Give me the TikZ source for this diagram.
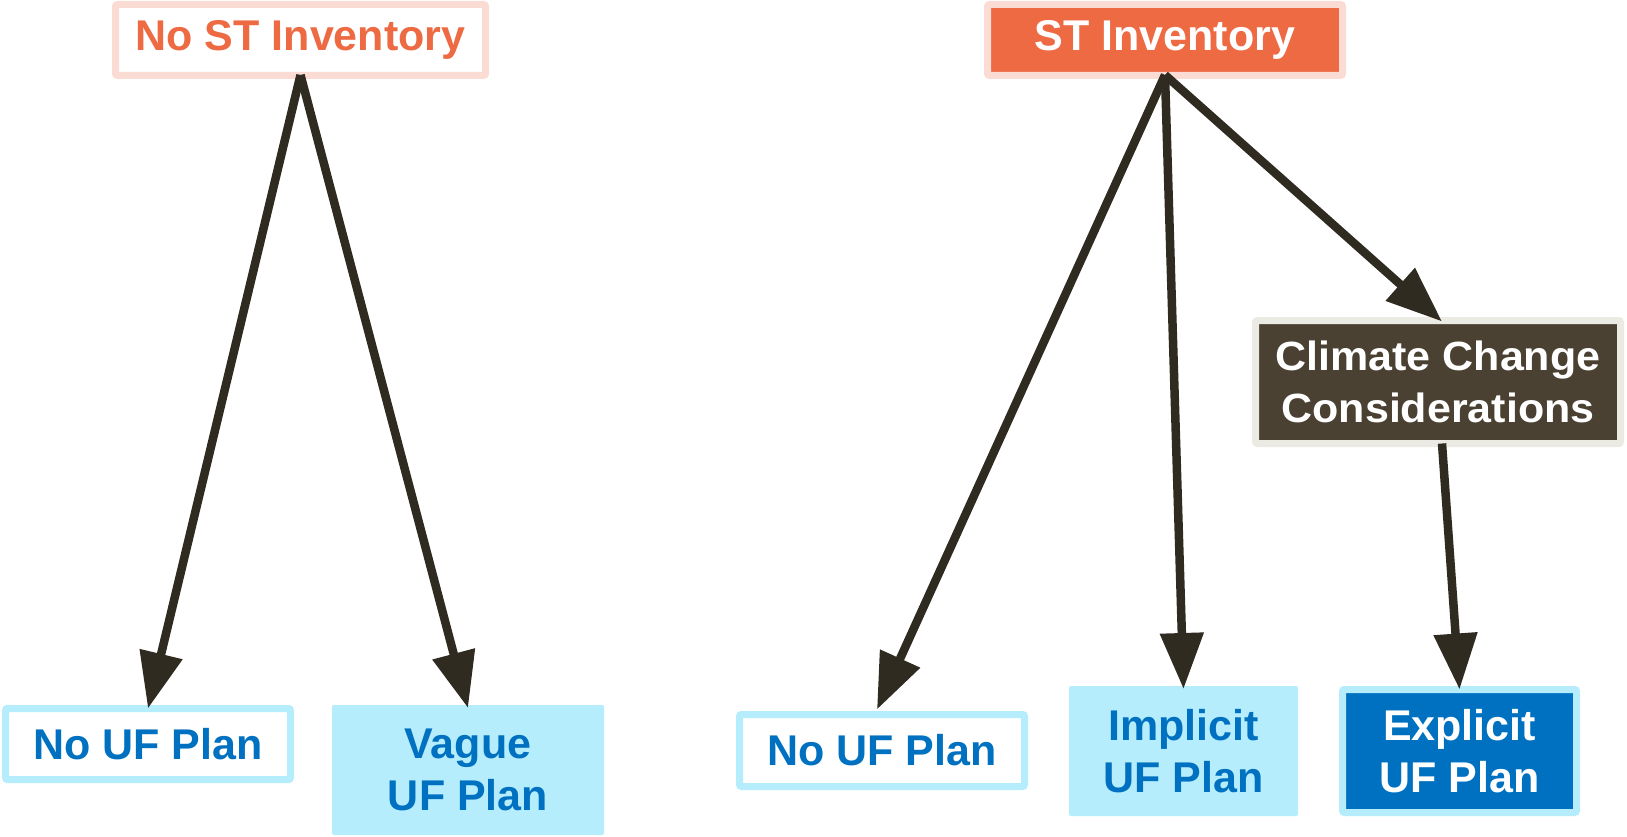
\documentclass[tikz,border=0pt]{standalone}
\usepackage{fontspec}
\setmainfont{Liberation Sans}
\usetikzlibrary{arrows.meta}
\definecolor{orangeST}{RGB}{237,106,67}
\definecolor{pinkBorder}{RGB}{250,220,212}
\definecolor{cyanUF}{RGB}{181,237,252}
\definecolor{blueUF}{RGB}{0,113,193}
\definecolor{climFill}{RGB}{74,65,50}
\definecolor{climBorder}{RGB}{236,235,227}
\definecolor{arrowCol}{RGB}{47,43,33}
\tikzset{
  boxbase/.style={rectangle, inner sep=0pt, outer sep=0pt, align=center,
    font=\fontsize{43}{52}\selectfont\bfseries, rounded corners=2pt},
  topwhite/.style={boxbase, draw=pinkBorder, line width=7pt, fill=white, text=orangeST},
  topfilled/.style={boxbase, draw=pinkBorder, line width=7pt, fill=orangeST, text=white},
  climbox/.style={boxbase, draw=climBorder, line width=7pt, fill=climFill, text=white},
  ufwhite/.style={boxbase, draw=cyanUF, line width=7pt, fill=white, text=blueUF},
  uflight/.style={boxbase, fill=cyanUF, text=blueUF},
  ufdark/.style={boxbase, draw=cyanUF, line width=7pt, fill=blueUF, text=white},
  conn/.style={draw=arrowCol, line width=8.5pt,
    -{Triangle[length=56pt, width=42pt]}, arrowCol}
}
\begin{document}
\begin{tikzpicture}[x=1pt, y=-1pt]
\useasboundingbox (0,0) rectangle (1627,837);
% top boxes
\node[topwhite, minimum width=370pt, minimum height=71pt] (nost) at (300.5,40) {No ST Inventory};
\node[topfilled, minimum width=355pt, minimum height=71pt] (st) at (1165,40) {ST Inventory};
% climate box
\node[climbox, minimum width=365pt, minimum height=123pt] (clim) at (1438,382)
  {\scalebox{1}[0.95]{Climate Change}\\\scalebox{1}[0.95]{Considerations}};
% bottom boxes
\node[ufwhite, minimum width=285pt, minimum height=71pt] (nouf1) at (148,744) {No UF Plan};
\node[uflight, minimum width=272pt, minimum height=130pt] (vague) at (468,770) {Vague\\UF Plan};
\node[ufwhite, minimum width=285pt, minimum height=72pt] (nouf2) at (882,750.5) {No UF Plan};
\node[uflight, minimum width=229pt, minimum height=130pt] (implicit) at (1183.5,751) {Implicit\\UF Plan};
\node[ufdark, minimum width=234pt, minimum height=123pt] (explicit) at (1459.5,751) {Explicit\\UF Plan};
% connectors
\draw[conn] ([yshift=0.5pt]nost.south) -- (nouf1.north);
\draw[conn] ([yshift=0.5pt]nost.south) -- ([yshift=-3pt]vague.north);
\draw[conn] ([yshift=0.5pt]st.south) -- ([xshift=-5pt,yshift=5pt]nouf2.north);
\draw[conn] ([yshift=0.5pt]st.south) -- ([yshift=-3pt]implicit.north);
\draw[conn] ([yshift=0.5pt]st.south) -- ([xshift=4pt,yshift=-1pt]clim.north);
\draw[conn] ([xshift=4pt]clim.south) -- (explicit.north);
\end{tikzpicture}
\end{document}
